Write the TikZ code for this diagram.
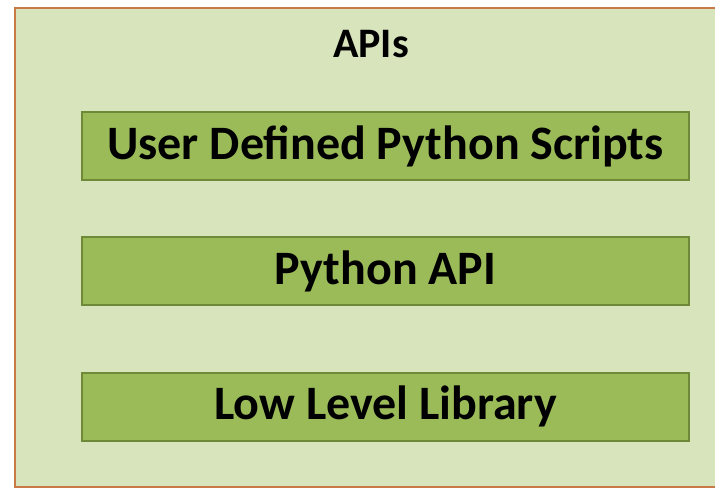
\documentclass[tikz,border=0pt]{standalone}
\usepackage{fontspec}
\setmainfont{Carlito}
\usetikzlibrary{positioning}
\definecolor{apifill}{HTML}{D8E4BC}
\definecolor{apiedge}{HTML}{C77A45}
\definecolor{layerfill}{HTML}{9BBB59}
\definecolor{layeredge}{HTML}{6F8A36}

\begin{document}
\begin{tikzpicture}[x=1pt,y=-1pt,
    layer/.style={draw=layeredge,line width=2pt,fill=layerfill,minimum width=607pt,minimum height=68pt,inner sep=0pt,font=\fontsize{48}{52}\selectfont\bfseries}]
				%
				% macro: layer box at height, name, text
				\newcommand{\layerbox}[3]{
				  \node[layer] (#2) at (385.5,#1) {#3};
				}
				%
				\useasboundingbox (0,0) rectangle (715,489);
				\draw[apiedge,line width=2.5pt,fill=apifill] (15,8) rectangle (720,487);
				\node[font=\fontsize{42}{46}\selectfont\bfseries] (apis) at (371,44) {APIs};
				%
				\layerbox{146}{scripts}{User Defined Python Scripts}
				\layerbox{271}{pyapi}{Python API}
				\layerbox{406.5}{lowlevel}{Low Level Library}
			\end{tikzpicture}
\end{document}
